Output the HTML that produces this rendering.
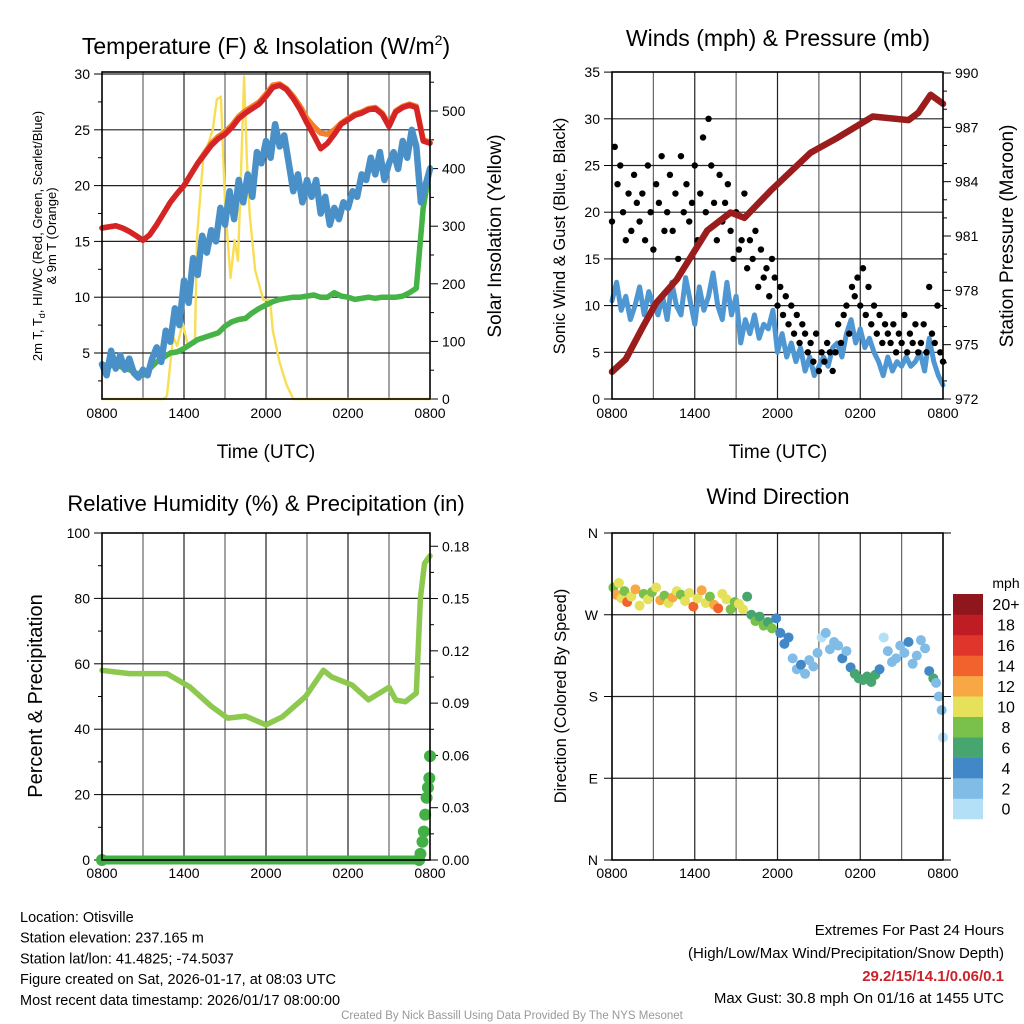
<!DOCTYPE html>
<html><head><meta charset="utf-8"><style>
html,body{margin:0;padding:0;background:#fff}
svg{display:block}
text{font-family:"Liberation Sans",Arial,sans-serif}
</style></head><body>
<svg id="s" width="1024" height="1024" viewBox="0 0 1024 1024" xmlns="http://www.w3.org/2000/svg"></svg>
<script>
// ---------- DATA ----------
const tempHours=[0,0.5,1,1.5,2,2.5,3,3.5,4,4.5,5,5.5,6,6.5,7,7.5,8,8.5,9,9.5,10,10.5,11,11.5,12,12.5,13,13.5,14,14.5,15,15.5,16,16.5,17,17.5,18,18.5,19,19.5,20,20.5,21,21.5,22,22.5,23,23.5,24];
const temp2m=[16.2,16.3,16.4,16.2,15.9,15.5,15.1,15.6,16.5,17.5,18.5,19.3,20.0,21.0,22.0,22.8,23.6,24.2,24.6,25.2,26.0,26.5,26.9,27.3,28.0,28.8,29.0,28.6,27.8,26.8,25.6,24.5,23.3,23.8,24.6,25.5,25.9,26.3,26.5,26.8,26.9,26.4,25.3,26.6,27.0,27.2,27.0,24.0,23.8];
const temp9m=[16.2,16.3,16.4,16.2,15.9,15.5,15.1,15.6,16.5,17.5,18.5,19.3,20.0,21.0,22.0,22.9,23.8,24.4,24.8,25.4,26.2,26.7,27.1,27.5,28.2,29.0,29.1,28.7,28.0,27.1,26.0,25.3,24.7,24.6,25.0,25.6,26.0,26.4,26.6,26.9,27.0,26.5,25.5,26.7,27.1,27.3,27.1,24.1,23.9];
const chill=[4.0,3.8,4.0,3.7,3.5,3.2,3.0,3.6,4.2,4.6,5.0,5.1,5.4,5.8,6.2,6.4,6.6,6.8,7.4,7.8,8.0,8.1,8.6,9.0,9.3,9.6,9.8,9.9,10.0,10.0,10.1,10.2,10.0,10.0,10.4,10.1,10.0,9.8,9.9,10.0,9.9,10.0,10.0,10.0,10.1,10.4,10.8,18.0,21.6];
const dewHours=[];for(let i=0;i<73;i++){dewHours.push(i/3);}
const dewpt=[4.0,3.0,5.2,3.6,4.8,3.5,4.5,3.2,2.8,3.5,3.0,4.5,5.5,4.2,7.0,6.0,9.0,7.5,11.5,9.5,13.5,12.0,15.5,14.0,16.0,15.0,18.0,16.5,19.5,17.0,20.5,18.5,21.0,19.0,23.0,22.0,24.0,22.5,25.5,23.5,24.5,22.0,19.5,21.0,18.5,20.5,19.0,20.5,17.5,19.0,16.5,18.0,17.0,18.5,18.0,19.5,19.0,21.0,20.5,22.5,21.0,23.0,20.5,22.0,23.0,21.5,24.0,22.5,25.0,23.5,18.5,20.0,21.5];
const solarHours=[0,4.5,4.75,5.2,5.5,5.9,6.3,6.8,6.95,7.4,8.1,8.4,8.7,9.0,9.4,9.7,9.95,10.2,10.4,10.6,10.8,11.2,11.8,12.3,12.5,13.0,13.5,14.0,24];
const solar=[0,0,5,108,92,132,92,96,281,415,467,520,525,340,210,276,240,415,560,415,323,224,172,172,119,63,25,0,0];

const windHours=[];for(let i=0;i<73;i++){windHours.push(i/3);}
const sonicWind=[10.5,12.5,9.5,11.0,8.5,10.0,12.0,9.0,11.5,10.0,9.0,11.0,8.5,12.5,10.0,9.0,13.0,10.5,8.0,12.0,9.5,11.0,13.5,10.0,8.5,12.5,9.0,11.0,6.0,8.5,7.0,9.0,6.5,8.0,7.5,9.5,5.0,7.0,4.5,6.0,4.0,5.5,3.0,4.5,2.5,3.5,4.5,3.5,5.5,6.0,4.5,7.0,8.5,6.0,7.5,5.5,6.5,5.0,4.0,2.5,4.5,3.0,4.0,3.5,4.5,3.5,4.0,5.0,3.0,6.5,4.0,2.5,1.5];
const gustHours=[];for(let i=0;i<121;i++){gustHours.push(i*0.2);}
const gust=[19,27,23,25,20,17,22,18,24,21,19,22,17,25,20,16,23,21,26,18,20,24,18,22,15,26,20,23,19,21,25,17,22,28,20,30,25,21,17,24,19,21,23,18,15,20,16,17,22,14,17,15,18,12,16,13,14,11,15,13,10,12,9,11,8,10,7,9,6,8,7,5,6,4,7,3,5,4,6,5,3,5,8,6,9,10,7,12,11,13,10,14,9,12,8,10,7,9,6,8,7,6,8,5,7,6,9,5,7,6,8,5,6,8,5,12,7,6,10,5,4];
const presHours=[0,1,2.25,3.2,4.7,6.9,8.6,9.6,11.5,14.4,16.3,18.9,21.5,22.2,23.1,24];
const pressure=[973.5,974.2,976.0,977.3,978.6,981.3,982.3,982.0,983.5,985.6,986.4,987.6,987.4,987.8,988.8,988.3];

const rhHours=[0,1,2,3,4.75,6.4,8,9.2,10.5,12,13.2,14.9,16.2,16.8,18.3,19.5,21,21.5,22.2,23,23.3,23.6,24];
const rh=[58,57.5,57,57,57,53,47,43.4,44,41.3,43.8,50,58,56,53.5,49,52.8,48.9,48.4,51,80,90.7,93];
const precipHours=[0,23.2,23.3,23.45,23.55,23.65,23.75,23.85,23.95,24];
const precip=[0,0,0.0035,0.0105,0.0163,0.026,0.0357,0.0415,0.047,0.0596];

const dirHours=[0.1,0.3,0.5,0.7,0.9,1.1,1.4,1.7,2.0,2.3,2.6,2.9,3.2,3.5,3.8,4.1,4.4,4.7,5.0,5.3,5.6,5.9,6.2,6.5,6.8,7.1,7.4,7.7,8.0,8.3,8.6,8.9,9.2,9.5,9.8,10.1,10.4,10.7,11.0,11.3,11.6,11.9,12.2,12.5,12.8,13.1,13.4,13.7,14.0,14.3,14.6,14.9,15.2,15.5,15.8,16.1,16.4,16.7,17.0,17.3,17.6,17.9,18.2,18.5,18.8,19.1,19.4,19.7,20.0,20.3,20.6,20.9,21.2,21.5,21.8,22.1,22.4,22.7,23.0,23.3,23.5,23.7,23.9,24.0];
const dirDeg=[300,292,305,288,296,284,290,298,280,293,287,295,300,286,291,283,289,296,292,285,294,279,288,297,283,290,281,277,293,287,276,284,282,276,290,270,263,268,258,262,255,266,250,238,245,222,210,215,205,220,213,228,245,250,232,240,236,222,230,212,205,200,198,202,196,204,210,245,230,218,222,236,228,240,216,225,242,233,208,200,195,180,165,135];
const dirSpeed=[9,12,10,11,8,14,10,12,11,9,10,8,10,13,9,11,12,10,8,10,11,15,10,12,11,9,13,15,10,11,9,8,11,10,7,6,8,7,8,6,8,5,4,5,4,3,2,4,3,2,3,2,1,2,2,3,2,4,2,4,7,6,6,6,7,6,4,0,2,3,2,2,2,4,2,2,2,2,4,6,3,2,2,0];
const speedLabels=["0","2","4","6","8","10","12","14","16","18","20+"];
const speedColors=["#b3e0f7","#80bce6","#4388c6","#47a56f","#79c14b","#e6e15a","#f7a844","#f1622c","#e0352a","#c01c24","#8f161c"];

const xTickHours=[0,6,12,18,24];
const xTickLabels=["0800","1400","2000","0200","0800"];

// ---------- HELPERS ----------
const NS="http://www.w3.org/2000/svg";
const S=document.getElementById('s');
function mk(tag,attrs,parent){const e=document.createElementNS(NS,tag);for(const k in attrs)e.setAttribute(k,attrs[k]);(parent||S).appendChild(e);return e;}
function txt(x,y,s,size,anchor,extra){const e=mk('text',Object.assign({x:x,y:y,'font-size':size,'text-anchor':anchor||'middle',fill:'#000'},extra||{}));e.textContent=s;return e;}
function poly(xs,ys,fx,fy,color,w){const p=xs.map((h,i)=>fx(h).toFixed(1)+','+fy(ys[i]).toFixed(1)).join(' ');return mk('polyline',{points:p,fill:'none',stroke:color,'stroke-width':w,'stroke-linejoin':'round','stroke-linecap':'round'});}

function panel(L,R,T,B,vGridHours,X,hLines,name){
  const g=mk('g',{});
  
  
  vGridHours.forEach(h=>{const l=mk('line',{x1:X(h),x2:X(h),y1:T,y2:B,stroke:(h%6===0)?'#222':'#666','stroke-width':1.2},g);
    
    });
  hLines.forEach(y=>{const l=mk('line',{x1:L,x2:R,y1:y,y2:y,stroke:'#222','stroke-width':1.2},g);
    
    });
  return g;
}
function frame(L,R,T,B,name){const r=mk('rect',{x:L,y:T,width:R-L,height:B-T,fill:'none',stroke:'#000','stroke-width':1.6});
  
  }
function tickL(x,y,len){mk('line',{x1:x-len,x2:x,y1:y,y2:y,stroke:'#000','stroke-width':1});}
function tickR(x,y,len){mk('line',{x1:x,x2:x+len,y1:y,y2:y,stroke:'#000','stroke-width':1});}
const grid3=[3,6,9,12,15,18,21];

// ---------- PANEL 1: Temperature ----------
{
const L=102,R=430,T=72,B=399;
const X=h=>L+h*(R-L)/24;
const yL=v=>74+(30-v)*11.16;
const yR=w=>399-w*0.576;
const leftTicks=[5,10,15,20,25,30];
panel(L,R,T,B,grid3,X,leftTicks.map(yL),'temperature-grid');
leftTicks.forEach(v=>{tickL(L,yL(v),8);const t=txt(L-12,yL(v)+5,String(v),14,'end');});
[2.5,7.5,12.5,17.5,22.5,27.5].forEach(v=>tickL(L,yL(v),4));
const rightTicks=[0,100,200,300,400,500];
rightTicks.forEach(v=>{tickR(R,yR(v),8);const t=txt(R+12,yR(v)+5,String(v),14,'start');});
[50,150,250,350,450,550].forEach(v=>tickR(R,yR(v),4));
let e;
e=poly(solarHours,solar,X,yR,'#f8de55',2.4);
e=poly(tempHours,chill,X,yL,'#45b346',5.5);
e=poly(dewHours,dewpt,X,yL,'#4a90c8',6.5);
e=poly(tempHours,temp9m,X,yL,'#f57f29',5.5);
e=poly(tempHours,temp2m,X,yL,'#d42426',5.5);
frame(L,R,T,B,'temperature-frame');
xTickHours.forEach((h,i)=>{const t=txt(X(h),418,xTickLabels[i],14);});
let t=mk('text',{x:266,y:54,'font-size':23,'text-anchor':'middle',fill:'#000'});t.innerHTML='Temperature (F) &amp; Insolation (W/m<tspan dy="-9" font-size="14">2</tspan><tspan dy="9">)</tspan>';

t=txt(266,458,'Time (UTC)',19);
t=mk('text',{x:0,y:0,'font-size':13,'text-anchor':'middle',fill:'#000',transform:'translate(42,236) rotate(-90)'});t.innerHTML='2m T, T<tspan dy="3" font-size="9">d</tspan><tspan dy="-3">, HI/WC (Red, Green, Scarlet/Blue)</tspan>';

t=mk('text',{x:0,y:0,'font-size':13,'text-anchor':'middle',fill:'#000',transform:'translate(56,236) rotate(-90)'});t.textContent='& 9m T (Orange)';

t=mk('text',{x:0,y:0,'font-size':19,'text-anchor':'middle',fill:'#000',transform:'translate(501,236) rotate(-90)'});t.textContent='Solar Insolation (Yellow)';

}

// ---------- PANEL 2: Winds & Pressure ----------
{
const L=612,R=943,T=72,B=399;
const X=h=>L+h*(R-L)/24;
const yW=v=>399-v*9.34;
const yP=p=>399-(p-972)*18.11;
const leftTicks=[0,5,10,15,20,25,30,35];
panel(L,R,T,B,grid3,X,[5,10,15,20,25,30].map(yW),'winds-grid');
leftTicks.forEach(v=>{tickL(L,yW(v),8);const t=txt(L-12,yW(v)+5,String(v),14,'end');});
const rightTicks=[972,975,978,981,984,987,990];
rightTicks.forEach(v=>{tickR(R,yP(v),8);const t=txt(R+12,yP(v)+5,String(v),14,'start');});
[973,974,976,977,979,980,982,983,985,986,988,989].forEach(v=>tickR(R,yP(v),4));
let e=poly(windHours,sonicWind,X,yW,'#4f97d3',5);
gust.forEach((v,i)=>{const c=mk('circle',{cx:X(gustHours[i]),cy:yW(v),r:3.2,fill:'#000'});
  
  });
e=poly(presHours,pressure,X,yP,'#9b1c1c',6.5);
frame(L,R,T,B,'winds-frame');
xTickHours.forEach((h,i)=>{const t=txt(X(h),418,xTickLabels[i],14);});
let t=txt(778,46,'Winds (mph) & Pressure (mb)',23);
t=txt(778,458,'Time (UTC)',19);
t=mk('text',{x:0,y:0,'font-size':16.5,'text-anchor':'middle',fill:'#000',transform:'translate(565,236) rotate(-90)'});t.textContent='Sonic Wind & Gust (Blue, Black)';

t=mk('text',{x:0,y:0,'font-size':19,'text-anchor':'middle',fill:'#000',transform:'translate(1013,236) rotate(-90)'});t.textContent='Station Pressure (Maroon)';

}

// ---------- PANEL 3: RH & Precip ----------
{
const L=102,R=430,T=533,B=860;
const X=h=>L+h*(R-L)/24;
const yRH=v=>860-v*3.27;
const yPr=v=>860-v*1743;
panel(L,R,T,B,grid3,X,[20,40,60,80].map(yRH),'humidity-grid');
[0,20,40,60,80,100].forEach(v=>{tickL(L,yRH(v),8);const t=txt(L-12,yRH(v)+5,String(v),14,'end');});
[10,30,50,70,90].forEach(v=>tickL(L,yRH(v),4));
['0.00','0.03','0.06','0.09','0.12','0.15','0.18'].forEach(s=>{const v=parseFloat(s);tickR(R,yPr(v),8);const t=txt(R+12,yPr(v)+5,s,14,'start');});
[0.015,0.045,0.075,0.105,0.135,0.165].forEach(v=>tickR(R,yPr(v),4));
let e=poly(rhHours,rh,X,yRH,'#8dc84f',5.5);
e=poly(precipHours.slice(0,2),precip.slice(0,2),X,yPr,'#42b045',9);
precip.forEach((v,i)=>{const c=mk('circle',{cx:X(precipHours[i]),cy:yPr(v),r:6,fill:'#42b045'});
  
  });
frame(L,R,T,B,'humidity-frame');
xTickHours.forEach((h,i)=>{const t=txt(X(h),878,xTickLabels[i],14);});
let t=txt(266,511,'Relative Humidity (%) & Precipitation (in)',22);
t=mk('text',{x:0,y:0,'font-size':20,'text-anchor':'middle',fill:'#000',transform:'translate(42,696) rotate(-90)'});t.textContent='Percent & Precipitation';

}

// ---------- PANEL 4: Wind Direction ----------
{
const L=612,R=943,T=533,B=860;
const X=h=>L+h*(R-L)/24;
const yD=d=>860-d*(B-T)/360;
panel(L,R,T,B,grid3,X,[90,180,270].map(yD),'direction-grid');
[[0,'N'],[90,'E'],[180,'S'],[270,'W'],[360,'N']].forEach(p=>{tickL(L,yD(p[0]),8);const t=txt(L-14,yD(p[0])+5,p[1],14,'end');});
[0,90,180,270,360].forEach(d=>tickR(R,yD(d),8));
dirDeg.forEach((d,i)=>{const b=Math.min(10,Math.floor(dirSpeed[i]/2));
  const c=mk('circle',{cx:X(dirHours[i]),cy:yD(d),r:5,fill:speedColors[b]});
  
  });
frame(L,R,T,B,'direction-frame');
xTickHours.forEach((h,i)=>{const t=txt(X(h),878,xTickLabels[i],14);});
let t=txt(778,504,'Wind Direction',22);
t=mk('text',{x:0,y:0,'font-size':16.5,'text-anchor':'middle',fill:'#000',transform:'translate(566,696) rotate(-90)'});t.textContent='Direction (Colored By Speed)';

t=txt(1006,588,'mph',14);
const cbTop=594,cbH=20.45;
speedLabels.forEach((lab,i)=>{const k=10-i;const y=cbTop+k*cbH;
  const r=mk('rect',{x:953,y:y,width:30,height:cbH+0.3,fill:speedColors[i]});
  
  
  const tt=txt(1006,y+cbH/2+6,lab,16);
  
  });
}

// ---------- FOOTER ----------
{
const left=["Location: Otisville","Station elevation: 237.165 m","Station lat/lon: 41.4825; -74.5037","Figure created on Sat, 2026-01-17, at 08:03 UTC","Most recent data timestamp: 2026/01/17 08:00:00"];
left.forEach((s,i)=>{const t=txt(20,922+i*20.7,s,14.5,'start');});
let t=txt(1004,935,'Extremes For Past 24 Hours',15,'end');
t=txt(1004,958,'(High/Low/Max Wind/Precipitation/Snow Depth)',15,'end');
t=txt(1004,981,'29.2/15/14.1/0.06/0.1',15,'end',{'font-weight':'bold',fill:'#cc2229'});
t=txt(1004,1003,'Max Gust: 30.8 mph On 01/16 at 1455 UTC',15,'end');
t=txt(512,1019,'Created By Nick Bassill Using Data Provided By The NYS Mesonet',11.5,'middle',{fill:'#999'});
}
</script>
</body></html>
